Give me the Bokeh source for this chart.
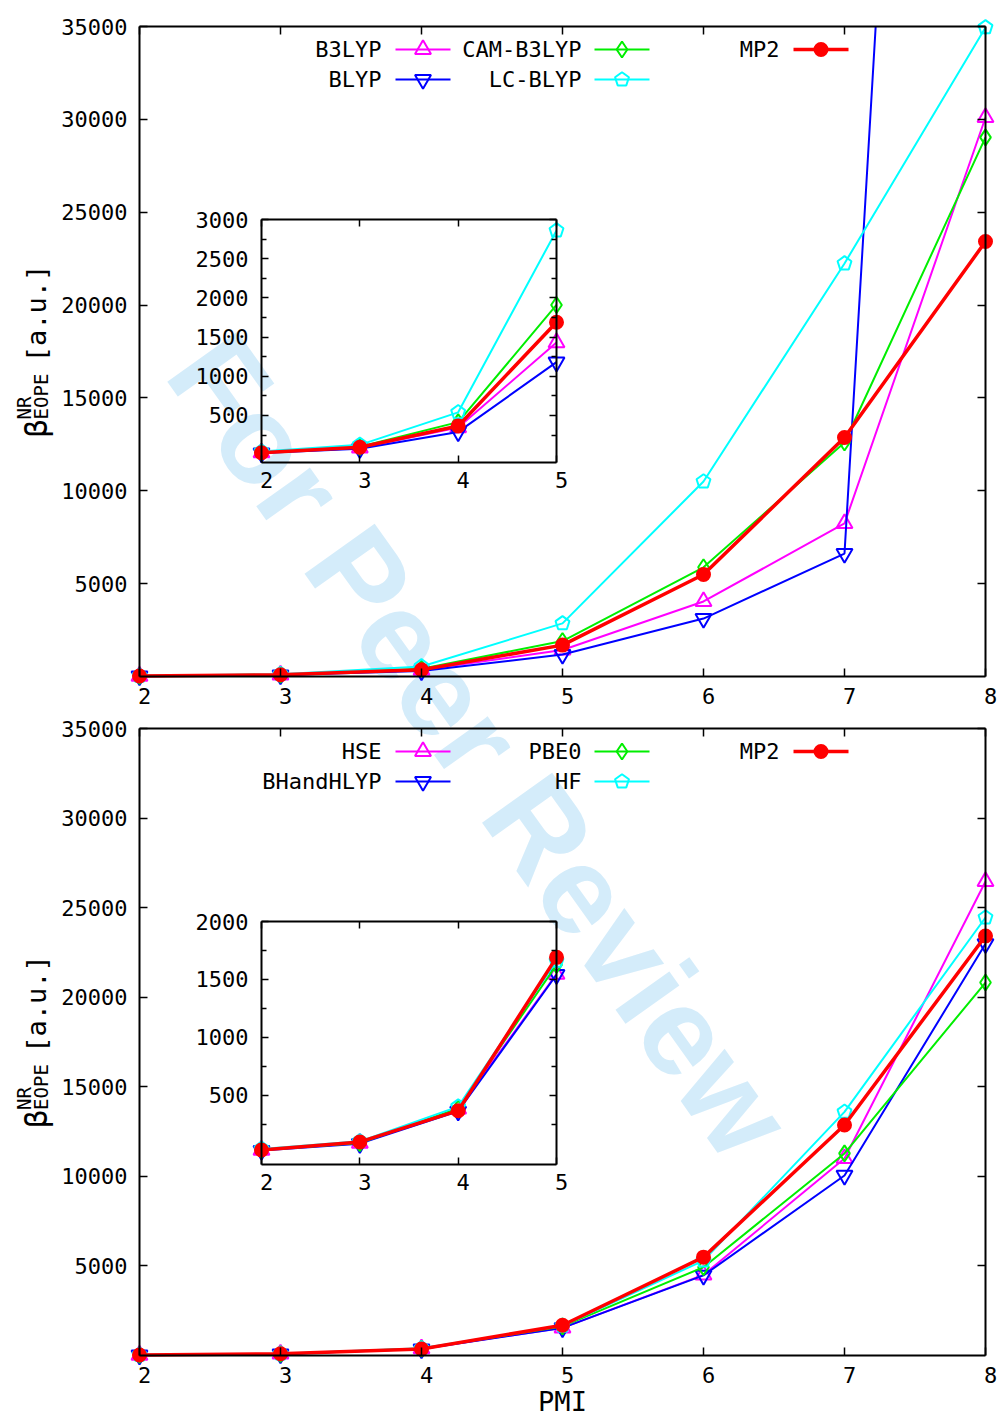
import math
from bokeh.plotting import figure
from bokeh.models import Range1d, LinearAxis, FixedTicker, Label, CustomJSTickFormatter
from bokeh.embed import file_html
from bokeh.resources import INLINE
from bokeh.core.properties import value

# ---------------- data ----------------
pmi = [2, 3, 4, 5, 6, 7, 8]

top_names = ["B3LYP", "BLYP", "CAM-B3LYP", "LC-BLYP", "MP2"]
b3lyp = [25, 85, 345, 1430, 4040, 8240, 30100]
blyp = [20, 75, 290, 1180, 3120, 6620, 135000]
cam_b3lyp = [30, 100, 415, 1910, 5880, 12600, 29030]
lc_blyp = [40, 125, 540, 2860, 10500, 22240, 34950]
mp2 = [25, 95, 365, 1690, 5490, 12870, 23420]

bottom_names = ["HSE", "BHandHLYP", "PBE0", "HF", "MP2"]
hse = [25, 85, 380, 1545, 4500, 11000, 26460]
bhandhlyp = [20, 80, 360, 1540, 4470, 10050, 22980]
pbe0 = [25, 85, 385, 1625, 4930, 11280, 20820]
hf = [35, 100, 400, 1660, 5300, 13600, 24450]

x_ticks = [2, 3, 4, 5, 6, 7, 8]
y_ticks = [5000, 10000, 15000, 20000, 25000, 30000, 35000]
y_max = 35000
inset_x_ticks = [2, 3, 4, 5]
top_inset_y_ticks = [500, 1000, 1500, 2000, 2500, 3000]
top_inset_minor = [250, 750, 1250, 1750, 2250, 2750]
bottom_inset_y_ticks = [500, 1000, 1500, 2000]
bottom_inset_minor = [250, 750, 1250, 1750]

x_label = "PMI"
watermark = "For Peer Review"

# ---------------- styling / geometry ----------------
FONT = "DejaVu Sans Mono"
WM_FONT = "Liberation Sans"
STYLES = [
    dict(color="#ff00ff", marker="triangle", size=16, lw=2.0, filled=False),
    dict(color="#0000ff", marker="inverted_triangle", size=16, lw=2.0, filled=False),
    dict(color="#00ee00", marker="diamond", size=16, lw=2.0, filled=False),
    dict(color="#00ffff", marker="pentagon", size=7.3, lw=2.0, filled=False),
    dict(color="#ff0000", marker="circle", size=13, lw=3.5, filled=True),
]
W, H = 997, 1418
FL, FR = 139, 985          # plot box pixel left / right
IL, IR = 261, 556          # inset pixel left / right
LABEL_SHIFT = 5            # gnuplot draws x tick labels slightly right of the tick


def X(px):
    return 2 + (px - FL) / (FR - FL) * 6


def IX(px):
    return 2 + (px - IL) / (IR - IL) * 3


def draw_marker(p, xs, ys, st, kx, ky, **kw):
    """kx, ky: pixels per data unit of the ranges used (for the pentagon outline)."""
    if st["marker"] == "pentagon":
        r = st["size"]
        pxs, pys = [], []
        for x0, y0 in zip(xs, ys):
            angs = [math.pi / 2 + 2 * math.pi * k / 5 for k in range(5)]
            pxs.append([x0 + r * math.cos(a) / kx for a in angs])
            pys.append([y0 + r * math.sin(a) / ky for a in angs])
        p.patches(pxs, pys, fill_color=None, line_color=st["color"], line_width=2, **kw)
        return
    p.scatter(xs, ys, marker=st["marker"], size=st["size"],
              fill_color=st["color"] if st["filled"] else None,
              line_color=st["color"], line_width=2, **kw)


def empty_fmt():
    return CustomJSTickFormatter(code="return ''")


def style_axis(ax, fs="22px"):
    ax.axis_line_color = "black"
    ax.axis_line_width = 2
    ax.major_tick_line_color = "black"
    ax.major_tick_line_width = 1.5
    ax.minor_tick_line_color = "black"
    ax.minor_tick_line_width = 1.5
    ax.major_label_text_font = FONT
    ax.major_label_text_font_size = fs
    ax.major_label_text_color = "black"
    ax.major_tick_out = 0
    ax.minor_tick_out = 0


def clip_top(xs, ys, top):
    """Clip a polyline at y = top (like the plot box does)."""
    cx, cy = [], []
    for i in range(len(xs)):
        if ys[i] <= top:
            cx.append(xs[i]); cy.append(ys[i])
        if i + 1 < len(xs) and (ys[i] - top) * (ys[i + 1] - top) < 0:
            t = (top - ys[i]) / (ys[i + 1] - ys[i])
            cx.append(xs[i] + t * (xs[i + 1] - xs[i])); cy.append(top)
    return cx, cy


p = figure(width=W, height=H, output_backend="svg", toolbar_location=None,
           x_axis_location=None, y_axis_location=None,
           min_border_left=0, min_border_right=0, min_border_top=0, min_border_bottom=0)
p.x_range = Range1d(X(0), X(W))
p.background_fill_color = "white"
p.border_fill_color = "white"
p.outline_line_color = None
for g in p.grid:
    g.visible = False
p.extra_x_ranges = {
    "ix": Range1d(IX(0), IX(W)),
    # same scales, shifted by a few pixels, only for the x tick label text
    "xs": Range1d(X(-LABEL_SHIFT), X(W - LABEL_SHIFT)),
    "ixs": Range1d(IX(-LABEL_SHIFT), IX(W - LABEL_SHIFT)),
}
KX_MAIN = (FR - FL) / 6
KX_INS = (IR - IL) / 3


def panel(series, names, tag, frame_top, frame_bottom, inset_top, inset_bottom,
          iymin, iymax, iyticks, iyminor, wm):
    fh = frame_bottom - frame_top
    ky_main = fh / y_max

    def Y(py):
        return y_max * (frame_bottom - py) / fh

    sy = (iymax - iymin) / (inset_bottom - inset_top)
    ky_ins = 1 / sy

    def IY(py):
        return iymin + (inset_bottom - py) * sy

    yn, iyn = "y" + tag, "iy" + tag
    p.extra_y_ranges[yn] = Range1d(Y(H), Y(0))
    p.extra_y_ranges[iyn] = Range1d(IY(H), IY(0))

    # watermark (under the data)
    if wm:
        p.add_layout(Label(x=X(480), y=Y(745), y_range_name=yn, text=watermark,
                           angle=-0.951, text_font=WM_FONT, text_font_style="bold",
                           text_font_size="125px", text_color="#d4ecfa",
                           text_align="center", text_baseline="middle", level="underlay"))

    # main box axes
    ab = LinearAxis(y_range_name=yn, fixed_location=0, bounds=(2, 8),
                    ticker=FixedTicker(ticks=x_ticks), formatter=empty_fmt())
    style_axis(ab); ab.major_tick_in = 8; ab.minor_tick_line_color = None
    p.add_layout(ab, "below")
    abl = LinearAxis(x_range_name="xs", y_range_name=yn, fixed_location=0,
                     ticker=FixedTicker(ticks=x_ticks), major_label_standoff=11)
    style_axis(abl); abl.axis_line_color = None; abl.major_tick_line_color = None
    abl.minor_tick_line_color = None
    p.add_layout(abl, "below")
    al = LinearAxis(y_range_name=yn, fixed_location=2, bounds=(0, y_max),
                    ticker=FixedTicker(ticks=y_ticks), major_label_standoff=12)
    style_axis(al); al.major_tick_in = 8; al.minor_tick_line_color = None
    p.add_layout(al, "left")
    ar = LinearAxis(y_range_name=yn, fixed_location=8, bounds=(0, y_max),
                    ticker=FixedTicker(ticks=y_ticks), formatter=empty_fmt())
    style_axis(ar); ar.major_tick_in = 8; ar.minor_tick_line_color = None
    p.add_layout(ar, "right")
    at = LinearAxis(y_range_name=yn, fixed_location=y_max, bounds=(2, 8),
                    ticker=FixedTicker(ticks=x_ticks), formatter=empty_fmt())
    style_axis(at); at.major_tick_in = 8; at.minor_tick_line_color = None
    p.add_layout(at, "above")

    # inset axes
    ib = LinearAxis(x_range_name="ix", y_range_name=iyn, fixed_location=iymin,
                    bounds=(2, 5), ticker=FixedTicker(ticks=inset_x_ticks),
                    formatter=empty_fmt())
    style_axis(ib); ib.major_tick_in = 7; ib.minor_tick_line_color = None
    p.add_layout(ib, "below")
    ibl = LinearAxis(x_range_name="ixs", y_range_name=iyn, fixed_location=iymin,
                     ticker=FixedTicker(ticks=inset_x_ticks), major_label_standoff=9)
    style_axis(ibl); ibl.axis_line_color = None; ibl.major_tick_line_color = None
    ibl.minor_tick_line_color = None
    p.add_layout(ibl, "below")
    it = LinearAxis(x_range_name="ix", y_range_name=iyn, fixed_location=iymax,
                    bounds=(2, 5), ticker=FixedTicker(ticks=inset_x_ticks),
                    formatter=empty_fmt())
    style_axis(it); it.major_tick_in = 7; it.minor_tick_line_color = None
    p.add_layout(it, "above")
    il = LinearAxis(x_range_name="ix", y_range_name=iyn, fixed_location=2,
                    bounds=(iymin, iymax),
                    ticker=FixedTicker(ticks=iyticks, minor_ticks=iyminor),
                    major_label_standoff=13)
    style_axis(il); il.major_tick_in = 7; il.minor_tick_in = 5
    p.add_layout(il, "left")
    ir = LinearAxis(x_range_name="ix", y_range_name=iyn, fixed_location=5,
                    bounds=(iymin, iymax),
                    ticker=FixedTicker(ticks=iyticks, minor_ticks=iyminor),
                    formatter=empty_fmt())
    style_axis(ir); ir.major_tick_in = 7; ir.minor_tick_in = 5
    p.add_layout(ir, "right")

    # main data
    for vals, st in zip(series, STYLES):
        cx, cy = clip_top(pmi, vals, y_max)
        p.line(cx, cy, line_color=st["color"], line_width=st["lw"], y_range_name=yn)
        mx = [x for x, v in zip(pmi, vals) if v <= y_max]
        my = [v for v in vals if v <= y_max]
        draw_marker(p, mx, my, st, KX_MAIN, ky_main, y_range_name=yn)
    # inset data (first four PMI values)
    for vals, st in zip(series, STYLES):
        p.line(pmi[:4], vals[:4], line_color=st["color"], line_width=st["lw"],
               x_range_name="ix", y_range_name=iyn)
        draw_marker(p, pmi[:4], vals[:4], st, KX_INS, ky_ins,
                    x_range_name="ix", y_range_name=iyn)

    # legend (gnuplot style: label then sample), filled by columns
    col_text_right = [381, 581, 779]
    col_line = [(395, 450), (594, 649), (793, 848)]
    rows = [frame_top + 23, frame_top + 53]
    for i, (name, st) in enumerate(zip(names, STYLES)):
        c, r = divmod(i, 2)
        yy = Y(rows[r])
        p.text(x=[X(col_text_right[c])], y=[yy], text=[name], text_align="right",
               text_baseline="middle", text_font=value(FONT), text_font_size="22px",
               text_color="black", y_range_name=yn)
        x0, x1 = col_line[c]
        p.line([X(x0), X(x1)], [yy, yy], line_color=st["color"], line_width=st["lw"],
               y_range_name=yn)
        draw_marker(p, [X((x0 + x1) / 2)], [yy], st, KX_MAIN, ky_main, y_range_name=yn)

    # y axis label: beta^NR_EOPE [a.u.]
    cyy = (frame_top + frame_bottom) / 2
    beta_fs, main_fs, small_fs = 30, 27, 19
    adv_beta, adv_main, adv_small = 0.602 * beta_fs, 0.602 * main_fs, 0.602 * small_fs
    y0 = cyy + 86
    bx = 36
    parts = [
        ("β", bx, y0, beta_fs),
        ("NR", bx - 13, y0 - adv_beta, small_fs),
        ("EOPE", bx + 4, y0 - adv_beta, small_fs),
        ("[a.u.]", bx, y0 - adv_beta - 4 * adv_small - 0.7 * adv_main, main_fs),
    ]
    for txt, px, py, fs in parts:
        p.add_layout(Label(x=X(px), y=Y(py), y_range_name=yn, text=txt, angle=math.pi / 2,
                           text_font=FONT, text_font_size=f"{fs}px", text_color="black",
                           text_align="left", text_baseline="alphabetic"))
    return Y


Y1 = panel([b3lyp, blyp, cam_b3lyp, lc_blyp, mp2], top_names, "1",
           frame_top=26, frame_bottom=676, inset_top=219, inset_bottom=462,
           iymin=-100, iymax=3000, iyticks=top_inset_y_ticks, iyminor=top_inset_minor,
           wm=True)
p.y_range = Range1d(p.extra_y_ranges["y1"].start, p.extra_y_ranges["y1"].end)
Y2 = panel([hse, bhandhlyp, pbe0, hf, mp2], bottom_names, "2",
           frame_top=728, frame_bottom=1355, inset_top=921, inset_bottom=1164,
           iymin=-100, iymax=2000, iyticks=bottom_inset_y_ticks, iyminor=bottom_inset_minor,
           wm=False)

p.add_layout(Label(x=X(562), y=Y2(1401), y_range_name="y2", text=x_label, text_font=FONT,
                   text_font_size="27px", text_color="black", text_align="center",
                   text_baseline="middle"))

open("out.html", "w").write(file_html(p, INLINE))
